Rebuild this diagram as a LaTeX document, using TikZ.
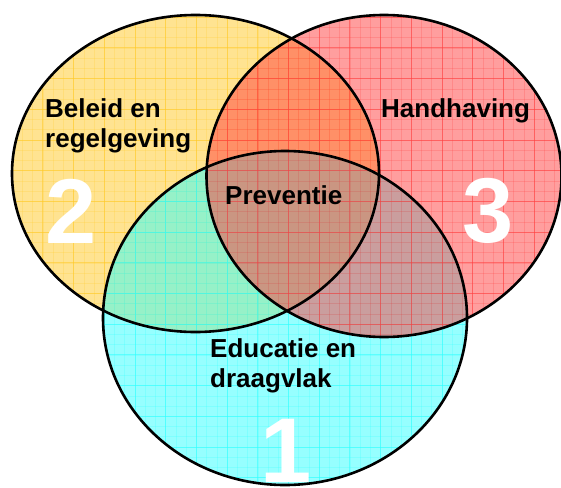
\documentclass[tikz,border=0pt]{standalone}
\usepackage{fontspec}
\setmainfont{Liberation Sans}
\definecolor{beleidkleur}{RGB}{255,200,36}
\definecolor{handhavingkleur}{RGB}{255,62,62}
\definecolor{educatiekleur}{RGB}{45,255,255}

\begin{document}
\begin{tikzpicture}[x=1pt,y=1pt,yscale=-1,
  rand/.style={line width=2.6pt,black},
  vlak/.style={fill opacity=0.5},
  raster/.style={line width=0.9pt,draw opacity=0.55},
  fijnraster/.style={line width=0.6pt,draw opacity=0.22},
  tekst/.style={inner sep=0pt,anchor=north west,align=left,font=\fontsize{26}{30}\selectfont\bfseries},
  nummer/.style={inner sep=0pt,anchor=base west,text=white,font=\fontsize{92}{92}\selectfont\bfseries}]
\useasboundingbox (0,0) rectangle (561,487);
\begin{scope}
\clip (0,0) rectangle (561,487);

%Shape: Ellipse [Beleid en regelgeving]
\begin{scope}
\fill[vlak,beleidkleur] (195.5,173.5) ellipse [x radius=183.5,y radius=158.5];
\clip (195.5,173.5) ellipse [x radius=183.5,y radius=158.5];
\foreach \i in {-15,...,44} \draw[fijnraster,beleidkleur] (135+10.233*\i,0) -- ++(0,487);
\foreach \j in {-15,...,36} \draw[fijnraster,beleidkleur] (0,140+10.233*\j) -- ++(561,0);
\foreach \i in {-5,...,14} \draw[raster,beleidkleur] (135+30.7*\i,0) -- ++(0,487);
\foreach \j in {-5,...,12} \draw[raster,beleidkleur] (0,140+30.7*\j) -- ++(561,0);
\end{scope}
%Shape: Ellipse [Educatie en draagvlak]
\begin{scope}
\fill[vlak,educatiekleur] (285,318) ellipse [x radius=182,y radius=167];
\clip (285,318) ellipse [x radius=182,y radius=167];
\foreach \i in {-15,...,44} \draw[fijnraster,educatiekleur] (135+10.233*\i,0) -- ++(0,487);
\foreach \j in {-15,...,36} \draw[fijnraster,educatiekleur] (0,140+10.233*\j) -- ++(561,0);
\foreach \i in {-5,...,14} \draw[raster,educatiekleur] (135+30.7*\i,0) -- ++(0,487);
\foreach \j in {-5,...,12} \draw[raster,educatiekleur] (0,140+30.7*\j) -- ++(561,0);
\end{scope}
%Shape: Ellipse [Handhaving]
\begin{scope}
\fill[vlak,handhavingkleur] (384,176) ellipse [x radius=177.5,y radius=161];
\clip (384,176) ellipse [x radius=177.5,y radius=161];
\foreach \i in {-15,...,44} \draw[fijnraster,handhavingkleur] (135+10.233*\i,0) -- ++(0,487);
\foreach \j in {-15,...,36} \draw[fijnraster,handhavingkleur] (0,140+10.233*\j) -- ++(561,0);
\foreach \i in {-5,...,14} \draw[raster,handhavingkleur] (135+30.7*\i,0) -- ++(0,487);
\foreach \j in {-5,...,12} \draw[raster,handhavingkleur] (0,140+30.7*\j) -- ++(561,0);
\end{scope}

%Outlines
\draw[rand] (195.5,173.5) ellipse [x radius=183.5,y radius=158.5];
\draw[rand] (285,318) ellipse [x radius=182,y radius=167];
\draw[rand] (384,176) ellipse [x radius=177.5,y radius=161];

% Text Node
\node[tekst] (beleid) at (45,98.5) {Beleid en\\regelgeving};
% Text Node
\node[tekst] (handhaving) at (381,98.5) {Handhaving};
% Text Node
\node[tekst] (preventie) at (225,185.5) {Preventie};
% Text Node
\node[tekst] (educatie) at (210,338.5) {Educatie en\\draagvlak};

% Number Nodes
\node[nummer] (twee) at (45,243) {2};
\node[nummer] (drie) at (462,242) {3};
\node[nummer] (een) at (260,482) {1};
\end{scope}
\end{tikzpicture}
\end{document}
